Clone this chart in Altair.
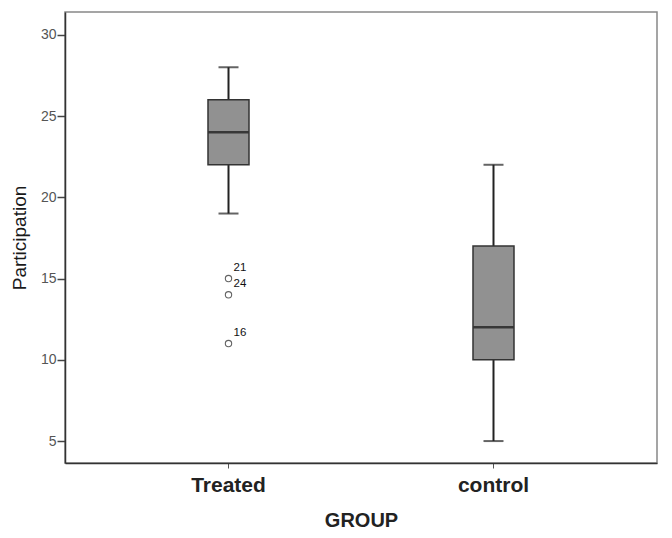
import altair as alt
import pandas as pd

groups = ["Treated", "control"]
lower = [19, 5]
q1 = [22, 10]
median = [24, 12]
q3 = [26, 17]
upper = [28, 22]

outlier_group = ["Treated", "Treated", "Treated"]
outlier_value = [15, 14, 11]
outlier_label = ["21", "24", "16"]

box = pd.DataFrame({"group": groups, "lower": lower, "q1": q1,
                    "median": median, "q3": q3, "upper": upper})
out = pd.DataFrame({"group": outlier_group, "value": outlier_value,
                    "label": outlier_label})

xs = alt.Scale(domain=groups, paddingInner=0, paddingOuter=0.117)
ys = alt.Scale(domain=[3.65, 31.4], nice=False, zero=False)

x = alt.X("group:N", scale=xs, sort=groups, title="GROUP",
          axis=alt.Axis(labelAngle=0, labelFontSize=21, labelFontWeight="bold",
                        labelColor="#222222", labelPadding=6, tickSize=5,
                        tickColor="#555555", titleFontSize=20, titleFontWeight="bold",
                        titleColor="#222222", titleBaseline="alphabetic", titleY=63,
                        domainColor="#333333", domainWidth=1.5))
yaxis = alt.Axis(values=[5, 10, 15, 20, 25, 30], grid=False, tickSize=8,
                 tickColor="#444444", tickWidth=1.5, labelFontSize=14,
                 labelColor="#555555", labelPadding=1, domainColor="#333333",
                 domainWidth=1.5, titleFontSize=19, titleFontWeight="normal",
                 titleColor="#1a1a1a", titleX=-36)

base = alt.Chart(box)

whisker = base.mark_rule(color="#222222", strokeWidth=2).encode(
    x=x, y=alt.Y("lower:Q", scale=ys, axis=yaxis, title="Participation"),
    y2="upper:Q")
caps_low = base.mark_tick(color="#222222", size=20, thickness=2).encode(
    x=x, y=alt.Y("lower:Q", scale=ys))
caps_up = base.mark_tick(color="#222222", size=20, thickness=2).encode(
    x=x, y=alt.Y("upper:Q", scale=ys))
bars = base.mark_bar(size=41, fill="#919191", stroke="#333333",
                     strokeWidth=1.5).encode(
    x=x, y=alt.Y("q1:Q", scale=ys), y2="q3:Q")
med = base.mark_tick(color="#111111", size=40, thickness=2.5).encode(
    x=x, y=alt.Y("median:Q", scale=ys))

pts = alt.Chart(out).mark_point(shape="circle", size=40, filled=False,
                                color="#222222", strokeWidth=1.1).encode(
    x=x, y=alt.Y("value:Q", scale=ys))
labels = alt.Chart(out).mark_text(align="left", baseline="middle", dx=5, dy=-11,
                                  fontSize=11.5, color="#111111").encode(
    x=x, y=alt.Y("value:Q", scale=ys), text="label:N")

chart = alt.layer(whisker, caps_low, caps_up, bars, med, pts, labels).properties(
    width=592, height=451,
    autosize=alt.AutoSizeParams(type="none"),
    padding={"left": 57, "top": 4, "right": 7, "bottom": 67},
).configure(font="Liberation Sans").configure_view(
    stroke="#888888", strokeWidth=1.5)

chart.save("out.html", embed_options={"renderer": "svg", "actions": False})
